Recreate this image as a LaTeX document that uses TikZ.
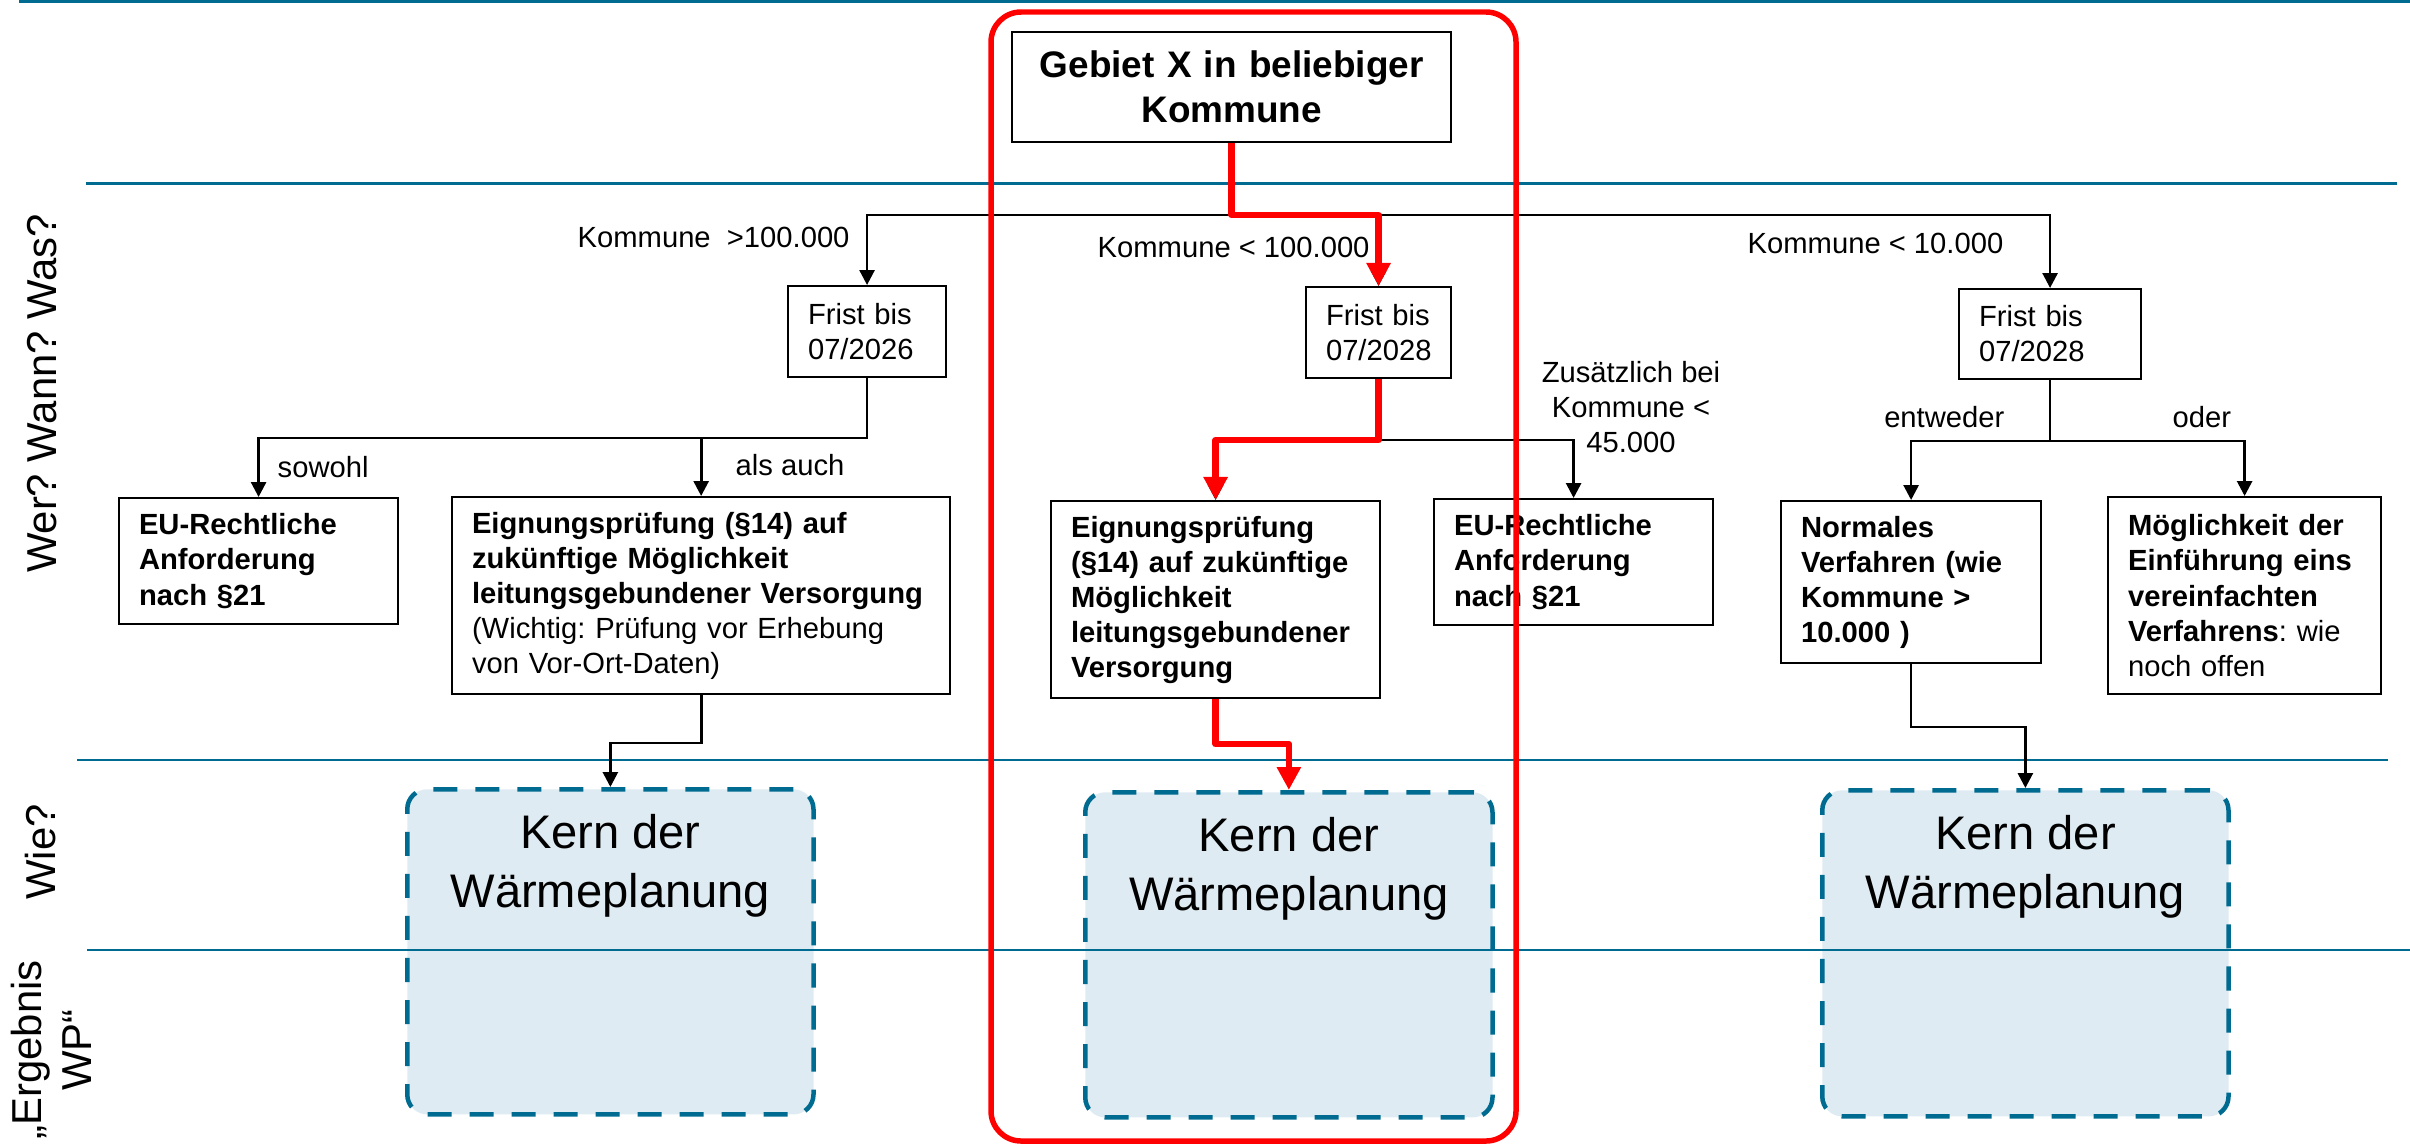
\documentclass[tikz,border=0pt]{standalone}
\usepackage{fontspec}
\setmainfont{Liberation Sans}
\usetikzlibrary{arrows.meta,positioning}
\frenchspacing

\begin{document}
\begin{tikzpicture}[x=0.01cm,y=0.01cm]
\tikzset{
  box/.style={draw,line width=0.57pt,anchor=north west,inner xsep=0.2cm,inner ysep=0pt,align=left,font=\fontsize{8.3}{9.96}\selectfont},
  boldbox/.style={box,font=\fontsize{8.3}{9.96}\selectfont\bfseries},
  kernbox/.style={draw=lane,fill=kernfill,line width=1.28pt,dash pattern=on 0.24cm off 0.18cm,rounded corners=0.2cm,anchor=north west,inner sep=0pt},
  kerntext/.style={inner sep=0pt,align=center,font=\fontsize{13.4}{16.8}\selectfont},
  lbl/.style={inner sep=0pt,font=\fontsize{8.3}{9.96}\selectfont},
  rowlbl/.style={inner sep=0pt,rotate=90,align=center,font=\fontsize{11.9}{14.2}\selectfont},
  arr/.style={line width=0.77pt,-{Triangle[length=0.15cm,width=0.15cm]}},
  redarr/.style={draw=route,line width=1.85pt,line join=round,-{Triangle[length=0.23cm,width=0.23cm]}},
}
\definecolor{lane}{RGB}{0,107,145} \definecolor{kernfill}{RGB}{222,235,242}
\colorlet{route}{red}

\useasboundingbox (0,0) rectangle (2410,-1145);

% Kern der Waermeplanung
\node[kernbox,minimum width=4.06cm,minimum height=3.25cm] (kernA) at (405,-787) {};
\node[kernbox,minimum width=4.07cm,minimum height=3.25cm] (kernB) at (1083,-790) {};
\node[kernbox,minimum width=4.06cm,minimum height=3.26cm] (kernC) at (1820,-788) {};
\node[kerntext,below=0.27cm of kernA.north] (kernAtext) {Kern der\\Wärmeplanung};
\node[kerntext,below=0.27cm of kernB.north] (kernBtext) {Kern der\\Wärmeplanung};
\node[kerntext,below=0.27cm of kernC.north] (kernCtext) {Kern der\\Wärmeplanung};

% lanes
\foreach \ya/\xa/\xb/\lw in {-1.5/19/2410/0.85pt,-183/86/2397/0.85pt,-760/77/2388/0.7pt,-950/87/2410/0.6pt}
  \draw[lane,line width=\lw] (\xa,\ya) -- (\xb,\ya);

\node[rowlbl,anchor=base] (rowWer) at (56,-393.5) {Wer? Wann? Was?};
\node[rowlbl,anchor=base] (rowWie) at (55,-852) {Wie?};
\node[rowlbl] (rowErgebnis) at (51,-1050) {„Ergebnis\\WP“};

% boxes
\node[boldbox,text width=3.99cm,align=center,minimum height=1.10cm,font=\fontsize{10.5}{12.8}\selectfont\bfseries] (gebiet) at (1011,-31) {Gebiet X in beliebiger\\Kommune};

\node[box,text width=1.18cm,minimum height=0.91cm] (fristA) at (787,-285) {Frist bis\\07/2026};
\node[box,text width=1.05cm,minimum height=0.91cm] (fristB) at (1305,-286) {Frist bis\\07/2028};
\node[box,text width=1.42cm,minimum height=0.90cm] (fristC) at (1958,-288) {Frist bis\\07/2028};

\node[boldbox,text width=2.39cm,minimum height=1.26cm] (euA) at (118,-497) {EU-Rechtliche\\Anforderung\\nach §21};
\node[box,text width=4.58cm,minimum height=1.97cm] (eignA) at (451,-496) {\textbf{Eignungsprüfung (§14) auf}\\\textbf{zukünftige Möglichkeit}\\\textbf{leitungsgebundener Versorgung}\\(Wichtig: Prüfung vor Erhebung\\von Vor-Ort-Daten)};
\node[boldbox,text width=2.89cm,minimum height=1.97cm] (eignB) at (1050,-500) {Eignungsprüfung\\(§14) auf zukünftige\\Möglichkeit\\leitungsgebundener\\Versorgung};
\node[boldbox,text width=2.39cm,minimum height=1.26cm] (euB) at (1433,-498) {EU-Rechtliche\\Anforderung\\nach §21};
\node[boldbox,text width=2.20cm,minimum height=1.62cm] (normal) at (1780,-500) {Normales\\Verfahren (wie\\Kommune >\\10.000 )};
\node[box,text width=2.33cm,minimum height=1.97cm] (einfach) at (2107,-496) {\textbf{Möglichkeit der}\\\textbf{Einführung eins}\\\textbf{vereinfachten}\\\textbf{Verfahrens}: wie\\noch offen};

% branch labels
\node[lbl,anchor=base west] (lblGross) at (577,-247) {Kommune\ \ >100.000};
\node[lbl,anchor=base west] (lblMittel) at (1097,-257) {Kommune < 100.000};
\node[lbl,anchor=base west] (lblKlein) at (1747,-253) {Kommune < 10.000};
\node[lbl,anchor=north,align=center] (lblZusatz) at (1631,-361) {Zusätzlich bei\\Kommune <\\45.000};
\node[lbl,anchor=base west] (lblSowohl) at (277,-477) {sowohl};
\node[lbl,anchor=base west] (lblAlsAuch) at (735,-475) {als auch};
\node[lbl,anchor=base east] (lblEntweder) at (2005,-427) {entweder};
\node[lbl,anchor=base west] (lblOder) at (2172,-427) {oder};

% connectors
\draw[arr] (gebiet.south) -- ++(0,-72) -| (fristA.north);
\draw[arr] (gebiet.south) -- ++(0,-72) -| (fristB.north);
\draw[arr] (gebiet.south) -- ++(0,-72) -| (fristC.north);
\draw[arr] (fristA.south) -- ++(0,-60) -| (euA.north);
\draw[arr] (fristA.south) -- ++(0,-60) -| (eignA.north);
\draw[arr] (fristB.south) -- ++(0,-61) -| (eignB.north);
\draw[arr] (fristB.south) -- ++(0,-61) -| (euB.north);
\draw[arr] (fristC.south) -- ++(0,-61) -| (normal.north);
\draw[arr] (fristC.south) -- ++(0,-61) -| (einfach.north);
\draw[arr] (eignA.south) -- ++(0,-48) -| (kernA.north);
\draw[arr] (normal.south) -- ++(0,-63) -| (kernC.north);

% highlighted route
\draw[redarr] (gebiet.south) -- ++(0,-72) -| (fristB.north);
\draw[redarr] (fristB.south) -- ++(0,-61) -| (eignB.north);
\draw[redarr] (eignB.south) -- ++(0,-45) -| (kernB.north);
\draw[route,line width=1.56pt,rounded corners=0.3cm] (991,-12) rectangle (1516,-1141);
\end{tikzpicture}
\end{document}
